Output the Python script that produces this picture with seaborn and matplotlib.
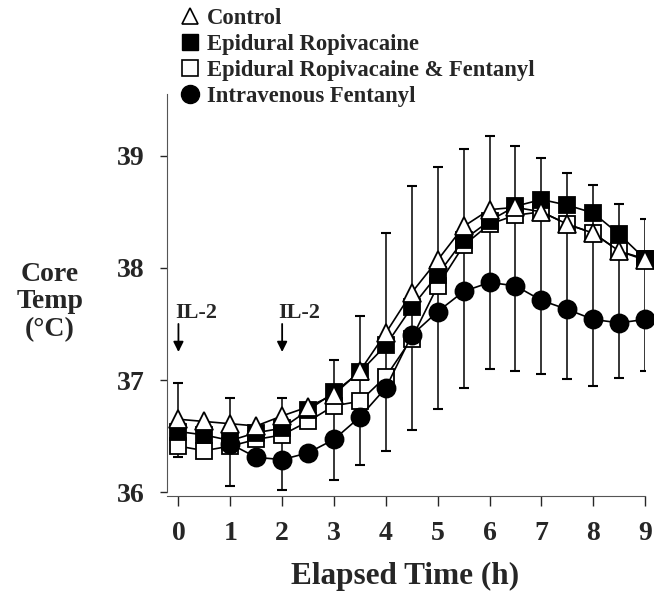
import numpy as np
import pandas as pd
import matplotlib
matplotlib.use('Agg')
import matplotlib.pyplot as plt
import seaborn as sns
from matplotlib.lines import Line2D

# 数据：每半小时一个点
time_h = [0, 0.5, 1, 1.5, 2, 2.5, 3, 3.5, 4, 4.5, 5, 5.5, 6, 6.5, 7, 7.5, 8, 8.5, 9]

control = [36.65, 36.63, 36.61, 36.59, 36.68, 36.76, 36.87, 37.08, 37.42, 37.78,
           38.07, 38.37, 38.52, 38.54, 38.50, 38.39, 38.31, 38.15, 38.07]
epi_ropi = [36.54, 36.51, 36.46, 36.53, 36.57, 36.73, 36.89, 37.07, 37.31, 37.65,
            37.94, 38.25, 38.42, 38.55, 38.61, 38.56, 38.49, 38.30, 38.08]
epi_ropi_fent = [36.41, 36.37, 36.41, 36.47, 36.51, 36.63, 36.77, 36.81, 37.03, 37.37,
                 37.84, 38.20, 38.39, 38.47, 38.50, 38.39, 38.31, 38.15, 38.08]
iv_fent = [np.nan, np.nan, 36.43, 36.31, 36.29, 36.35, 36.47, 36.67, 36.93, 37.40,
           37.61, 37.79, 37.87, 37.84, 37.71, 37.63, 37.54, 37.51, 37.54]

# 误差线（上下端点）
bar_time = [0, 1, 2, 3, 3.5, 4, 4.5, 5, 5.5, 6, 6.5, 7, 7.5, 8, 8.5, 9]
bar_hi = [36.97, 36.84, 36.84, 37.18, 37.57, 38.31, 38.73, 38.90, 39.06, 39.18,
          39.09, 38.98, 38.85, 38.74, 38.57, 38.44]
bar_lo = [36.31, 36.05, 36.02, 36.11, 36.24, 36.37, 36.55, 36.74, 36.93, 37.10,
          37.08, 37.05, 37.01, 36.95, 37.02, 37.08]

x_ticks = [0, 1, 2, 3, 4, 5, 6, 7, 8, 9]
y_ticks = [36, 37, 38, 39]
il2_times = [0, 2]

labels = ['Control', 'Epidural Ropivacaine', 'Epidural Ropivacaine & Fentanyl',
          'Intravenous Fentanyl']

sns.set_style('ticks')
plt.rcParams['font.family'] = ['Liberation Serif', 'DejaVu Serif']
plt.rcParams['font.weight'] = 'bold'

fig = plt.figure(figsize=(6.54, 5.91), dpi=100)
ax = fig.add_axes([0.2554, 0.1607, 0.731, 0.680])

df = pd.DataFrame({'time': time_h, 'control': control, 'er': epi_ropi,
                   'erf': epi_ropi_fent, 'iv': iv_fent})

# 误差线
bars = pd.DataFrame({'t': bar_time, 'hi': bar_hi, 'lo': bar_lo})
mid = (bars['hi'] + bars['lo']) / 2
half = (bars['hi'] - bars['lo']) / 2
ax.errorbar(bars['t'], mid, yerr=half, fmt='none', ecolor='black',
            elinewidth=1.1, capsize=3.4, capthick=1.5, zorder=1)

styles = [
    ('erf', 's', 'white', 11, 2),
    ('er', 's', 'black', 11, 3),
    ('control', '^', 'white', 12.5, 4),
    ('iv', 'o', 'black', 13, 5),
]
for col, mk, fc, ms, z in styles:
    d = df.dropna(subset=[col])
    sns.lineplot(x=d['time'], y=d[col], ax=ax, color='black', linewidth=1.2,
                 marker=mk, markersize=ms, markerfacecolor=fc,
                 markeredgecolor='black', markeredgewidth=1.3,
                 zorder=z, clip_on=False)

ax.set_xlim(-0.22, 9)
ax.set_ylim(35.965, 39.55)
ax.set_xticks(x_ticks)
ax.set_yticks(y_ticks)
ax.set_xlabel('')
ax.set_ylabel('')
ax.tick_params(axis='x', length=7, width=1, pad=11, labelsize=20)
ax.tick_params(axis='y', length=5, width=1, pad=11, labelsize=20)
for lab in ax.get_xticklabels() + ax.get_yticklabels():
    lab.set_fontweight('bold')
sns.despine(ax=ax)
ax.spines['left'].set_bounds(36, 39.55)
ax.spines['left'].set_color('#555555')
ax.spines['bottom'].set_color('#555555')

# IL-2 标注
for t in il2_times:
    ax.annotate('', xy=(t, 37.25), xytext=(t, 37.50),
                arrowprops=dict(arrowstyle='-|>', color='black', lw=1.3,
                                mutation_scale=15, shrinkA=0, shrinkB=0))
    ax.text(t - 0.07, 37.60, 'IL-2', fontsize=16, fontweight='bold',
            ha='left', va='center')

fig.text(50 / 654, 1 - 302 / 591, 'Core\nTemp\n(°C)', ha='center', va='center',
         fontsize=20, fontweight='bold', linespacing=1.15)
fig.text(405 / 654, 1 - 584 / 591, 'Elapsed Time (h)', ha='center',
         va='baseline', fontsize=22.5, fontweight='bold')

handles = [
    Line2D([], [], linestyle='none', marker='^', markersize=12,
           markerfacecolor='white', markeredgecolor='black', markeredgewidth=1.2),
    Line2D([], [], linestyle='none', marker='s', markersize=11,
           markerfacecolor='black', markeredgecolor='black'),
    Line2D([], [], linestyle='none', marker='s', markersize=11,
           markerfacecolor='white', markeredgecolor='black', markeredgewidth=1.2),
    Line2D([], [], linestyle='none', marker='o', markersize=13,
           markerfacecolor='black', markeredgecolor='black'),
]
fig.legend(handles, labels, loc='upper left', bbox_to_anchor=(181 / 654, 1 - 8 / 591),
           frameon=False, handlelength=0.8, handletextpad=0.35, labelspacing=0.22,
           borderaxespad=0, borderpad=0, prop={'size': 16.3, 'weight': 'bold'})

fig.savefig('out.png', dpi=100)
